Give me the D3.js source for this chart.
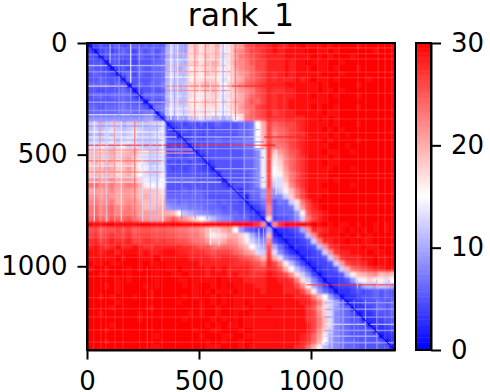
<!DOCTYPE html>
<html>
<head>
<meta charset="utf-8">
<script src="https://cdn.jsdelivr.net/npm/d3@7"></script>
<style>
  body { margin: 0; background: #fff; }
  text { font-family: "DejaVu Sans", sans-serif; fill: #000; }
</style>
</head>
<body>
<div id="chart"></div>
<script>
// residue bins are 25 wide, one char per bin, base 31 (0-9, a=10 ... u=30)
const binSize = 25;
const residueCount = 1375;
const xTicks = [0, 500, 1000];
const yTicks = [0, 500, 1000];
const barTicks = [0, 10, 20, 30];
const diagonalEnds = [0, 1375];

const paeRows = [
  "14545645656565 aca9 ijhjik eh kl pqrr s tsst tutttutuuuutuuuuuu",
  "41454565465656 bca9 hjhiij eg lm oqqr s tstt ttuuttutuuuuuutuuu",
  "54145555465556 abaa hihjij dh kn opqr s sstt tttututuuutuuuuuuu",
  "55515545455566 bcba ijhjkj eh lm npqq s ssts ttutttuutuuuuuuuuu",
  "65541454565566 bcab ghhijh eg km noqq s ssts tttuttutuuutuuuuuu",
  "56554156465566 cdbb hhgjih eh jl mopq s rsts tttttuuutuuuuuuuuu",
  "55655516555566 bcbb ghhiig dg jk nopq s rsss tstuttutuuuuutuuuu",
  "66665651565667 ccbc iijkji fi km opqr s sstt ttttutuuuuutuuuuuu",
  "55455565145555 bcbb hhhijh eg jl mnpq s rrss ttttuttutuuuuuuuuu",
  "56656666416666 cccb hgghih eh ik mopq s rsss tttuttutuuutuuuuuu",
  "55555565541555 bdbb gghiig dg jk npoq s rsst ttttttuuuuuuuuuuuu",
  "66566676665177 cdcc hghhhh eh il noqr s rsst tttutuutuuutuuuuuu",
  "66666677667716 dddc hhhhgg eg ik mopq s qrss tttttuttuuuuuuuuuu",
  "88888888889961 88a9 bcdcbb ab fh nopq s rrss ssttututuuuuuuuuuu",
  "bcabccaccbbcdd 2454545456555667 f k q opqqrs ttttutuuutuuuuuu",
  "bcbcdcbcdcbbcd 4245454545555667 f k q nopqrs tttututuuuuuuuuu",
  "abacbcbcdbbbdc 4424454555555667 f k q mopqrr ttttututuuuuuuuu",
  "cdcdecdedcccde 5442454556556677 f k q nopqrs tttutuuuutuuuuuu",
  "dcedcdecdcbccd 4544245555556677 f k q nnoqrs ttttuuutuuuuuuuu",
  "ijhjkhijkhecde 4454424555555566 8 e q jlnpqs tttuttuutuuuuuuu",
  "jkijkiklihdcdd 5454542455555566 8 e q hjmoqr ttttutuuuuuuuuuu",
  "ikhkjhjkigdbcd 4545454245555566 8 e q gimoqr tttuttuuuuuuuuuu",
  "jkjlkijligecdd 5454554425555566 8 e q fhloqr tttttuuutuuuuuuu",
  "ikikjhjkhfdcce 5555555542555556 8 e q fgknpr ttttuuuuuuuuuuuu",
  "lmklmkllkieddf 6666655554255556 8 e q ddjnqr ttttutuuuuuuuuuu",
  "nommnlmnmkgfef 5555555555425556 8 e q cdhmpr tttuuuuutuuuuuuu",
  "klklmkllkjjjih 5556565555554256 6 9 o 9cgjnq ttttuuuuuuuuuuuu",
  "lmkmlkllkjkjii 6666666555555426 6 9 o 88cinq tttuuuuuuuuuuuuu",
  "mnlmnklmlkjjij 7767666665655424 5 7 o 576chn rtuuuuuuuuuuuuuu",
  "nomnommnlljjjk 9888777666565542 4 6 m 5667dl qstuuuuuuuuuuuuu",
  "nomnomnnmlllkk kjfba98877666554 2 4 m 56669g prstuuuuuuuuuuuu",
  "oponpoopnmllkl npmljhfdb9886664 4 2 h 45568c nqstuuuuuuuuuuuu",
  "uttuututtuuutu tuutuuuuuutuuuutrm 1 mr uttututututtutuututu",
  "pqoppqpqopppop oonnmmljijklf96543 a 1 3345 a m srstttututututu",
  "qrpqrqqrpqqqpq ppoonnmjghikkiea75 j 2 1 3345 b m stttutututuuuu",
  "rsqrsrrsqqrrqr qqpponnljjkmljgca8 m 53 1 3345 c n ssttututtuuuu",
  "stsrstsstsrrss sssrrqppnnoonljfca p a63 1 3345 b m rsttttuttuuu",
  "ttsttstttstsst ttssrrrqpqqqonlkdc q d853 1 3345 c m rsstttuttuu",
  "tttttutuutttut ttttssssrrssrqpomj r kd864 1 3445 c m rsssttuttu",
  "uttuttuuututtu ttttttssssssrrrqpn s qmgb74 1 3445 c l qrrstuttu",
  "tuutuuututuutu ttuttttststssssrqq s rpkfb84 1 3445 c k opqrsstt",
  "uuttuuutuuuutu uttutttstttstssrrr t srqmhc84 1 3445 b g jklmjkj",
  "uuuuututuuuutu uuttuttttuttttssss t tssrnhc84 1 3345 9 e giegdf",
  "uuututuuuututu uuututuutututtttss t ttssqmga74 1 3445 6 a bacba",
  "uuuuutuuuuutuu uuuuutututttutttts t ttsssqmg964 1 3345 456565",
  "uututuuutuutuu uuututuutututttttt t ttttssrnjf95 1 3345 56565",
  "uuuuutuuuuuuuu uutuuututututtuttt t tttttssqnida6 1 3345 5656",
  "uuuutuuuuuutuu uuuuuutuutuutttutt u ttttttrplhc976 1 3345 656",
  "uutuuuuuutuuuu uuuututuutuutuuttt t ttttttrqmid8765 1 3345 56",
  "uuuuuuuuutuuuu uuutuuuututututttt t ttttttrqnjd87655 1 3345 5",
  "uuuutuuuuuuuuu uuuuuuutututtutttt t ttttttsqnjd876555 1 3345",
  "uuutuuuuuuuuuu uuuuutuuttuuutuutt t ttttttsqmic8765555 1 334",
  "uuuuuuuuuuuutu uuuuuutuuuttuutttt t tttttsrolga87655555 1 33",
  "uuutuuuuuuuuuu uuuuuuutuutuutuutt t tttttsrokfa876655555 1 3",
  "uuuuuuuuuuuutu uuuuuuutttuuututtt t ttttsrokgb98766555555 1"
];

// thin streaks in the map: [residue, from, to, value]
const rowStreaks = [
  [45, 350, 640, 20], [72, 350, 640, 14], [125, 350, 640, 22], [150, 350, 640, 15],
  [210, 350, 640, 23], [235, 350, 640, 13], [290, 350, 640, 16], [305, 350, 640, 12],
  [50, 0, 345, 8], [125, 0, 345, 8], [230, 0, 345, 9], [300, 0, 345, 8],
  [440, 350, 790, 8], [470, 350, 790, 9], [510, 350, 790, 9], [600, 350, 790, 9], [660, 350, 790, 9], [700, 350, 790, 8],
  [370, 0, 345, 9], [395, 0, 345, 15], [432, 0, 345, 9], [505, 0, 345, 12], [525, 0, 345, 24],
  [548, 0, 345, 14], [575, 0, 345, 23], [598, 0, 345, 13],
  [1160, 1060, 1375, 10], [1190, 1060, 1375, 9], [1225, 1060, 1375, 8], [1285, 1060, 1375, 9], [1340, 1060, 1375, 10],
  [98, 0, 90, 13], [98, 110, 350, 12], [98, 350, 620, 20],
  [190, 0, 180, 17], [190, 200, 350, 9], [190, 350, 640, 24], [190, 640, 900, 28],
  [262, 0, 250, 11], [262, 275, 350, 12], [262, 350, 700, 21],
  [318, 0, 310, 14], [318, 350, 700, 15],
  [358, 0, 340, 18], [385, 360, 770, 10],
  [418, 0, 400, 16], [418, 430, 780, 12], [418, 790, 1000, 28],
  [455, 0, 445, 28], [455, 465, 790, 27], [455, 790, 840, 29],
  [476, 0, 470, 22], [490, 0, 480, 20], [540, 350, 530, 9], [560, 570, 760, 11],
  [620, 0, 600, 14], [620, 630, 800, 11],
  [1080, 980, 1375, 27], [1257, 1060, 1245, 14], [1257, 1265, 1375, 13], [1310, 1060, 1300, 12]
];
const colStreaks = [
  [358, 0, 345, 10], [372, 0, 345, 15], [388, 0, 345, 9], [402, 0, 345, 14], [428, 0, 345, 11],
  [452, 0, 345, 18], [478, 0, 345, 22], [500, 0, 345, 16], [525, 0, 345, 23], [548, 0, 345, 17],
  [572, 0, 345, 22], [592, 0, 345, 14], [605, 0, 345, 10], [622, 0, 345, 13], [640, 0, 345, 20], [660, 0, 345, 24],
  [30, 350, 800, 14], [55, 350, 800, 22], [85, 350, 800, 12], [120, 350, 800, 22], [150, 350, 800, 16],
  [210, 350, 800, 24], [245, 350, 800, 13], [280, 350, 800, 11], [310, 350, 800, 10], [335, 350, 800, 14],
  [140, 0, 345, 9], [230, 0, 345, 9], [295, 0, 345, 8], [420, 350, 790, 8], [480, 350, 790, 9],
  [535, 350, 790, 9], [640, 350, 790, 8], [700, 350, 790, 9],
  [1090, 1150, 1375, 12], [1140, 1150, 1375, 10], [1190, 1150, 1375, 8], [1240, 1150, 1375, 10], [1290, 1150, 1375, 9],
  [100, 0, 90, 12], [192, 0, 180, 15], [192, 200, 350, 9],
  [842, 480, 680, 14], [266, 1000, 1375, 26],
  [548, 830, 905, 15], [586, 830, 910, 13], [764, 830, 940, 12], [785, 830, 950, 12],
  [1204, 1060, 1100, 20], [1290, 1060, 1100, 20], [1345, 1060, 1100, 21]
];
// faint pale lines that give the plaid look
const plaidRows = [22, 48, 71, 130, 155, 225, 300, 340, 402, 435, 520, 585, 605, 675, 720, 770, 870, 905, 960, 1015, 1045, 1140, 1190, 1228, 1285, 1340];
const plaidCols = [30, 62, 84, 125, 160, 235, 290, 335, 395, 470, 510, 575, 640, 700, 745, 880, 930, 985, 1030, 1075, 1125, 1210, 1245, 1300, 1330, 1360];

const margin = { top: 43, left: 87 };
const mapWidth = 308;
const mapHeight = 307;

const svg = d3.select('#chart').append('svg')
  .attr('width', 490)
  .attr('height', 392)
  .style('display', 'block');

const defs = svg.append('defs');
defs.append('filter').attr('id', 'soften')
  .append('feGaussianBlur').attr('stdDeviation', 1);
defs.append('clipPath').attr('id', 'mapClip')
  .append('rect')
  .attr('x', margin.left).attr('y', margin.top)
  .attr('width', mapWidth).attr('height', mapHeight);

const x = d3.scaleLinear().domain([0, residueCount]).range([margin.left, margin.left + mapWidth]);
const y = d3.scaleLinear().domain([0, residueCount]).range([margin.top, margin.top + mapHeight]);
const color = d3.scaleLinear().domain([0, 15, 30]).range(['#0000ff', '#ffffff', '#ff0000']);

const cells = [];
paeRows.forEach((row, r) => {
  row.replace(/ /g, '').split('').forEach((ch, c) => {
    cells.push({ r, c, v: parseInt(ch, 31) });
  });
});

const map = svg.append('g').attr('clip-path', 'url(#mapClip)');

const cellLayer = map.append('g').attr('id', 'cellLayer');
cellLayer.selectAll('.cell')
  .data(cells)
  .enter()
  .append('rect')
  .attr('class', 'cell')
  .attr('x', d => x(d.c * binSize))
  .attr('y', d => y(d.r * binSize))
  .attr('width', x(binSize) - x(0) + 0.3)
  .attr('height', y(binSize) - y(0) + 0.3)
  .attr('fill', d => color(d.v));

// soft copy over the sharp bins so the 25 residue steps don't show
map.append('use').attr('href', '#cellLayer').attr('filter', 'url(#soften)');

const streakSize = 6;
map.selectAll('.row-streak')
  .data(rowStreaks)
  .enter()
  .append('rect')
  .attr('x', d => x(d[1]))
  .attr('y', d => y(d[0]))
  .attr('width', d => x(d[2]) - x(d[1]))
  .attr('height', y(streakSize) - y(0))
  .attr('fill', d => color(d[3]))
  .attr('fill-opacity', 0.75);

map.selectAll('.col-streak')
  .data(colStreaks)
  .enter()
  .append('rect')
  .attr('x', d => x(d[0]))
  .attr('y', d => y(d[1]))
  .attr('width', x(streakSize) - x(0))
  .attr('height', d => y(d[2]) - y(d[1]))
  .attr('fill', d => color(d[3]))
  .attr('fill-opacity', 0.75);

map.selectAll('.plaid-row')
  .data(plaidRows)
  .enter()
  .append('line')
  .attr('x1', x(0)).attr('x2', x(residueCount))
  .attr('y1', d => y(d)).attr('y2', d => y(d))
  .attr('stroke', '#fff').attr('stroke-opacity', 0.14).attr('stroke-width', 1.2);

map.selectAll('.plaid-col')
  .data(plaidCols)
  .enter()
  .append('line')
  .attr('y1', y(0)).attr('y2', y(residueCount))
  .attr('x1', d => x(d)).attr('x2', d => x(d))
  .attr('stroke', '#fff').attr('stroke-opacity', 0.14).attr('stroke-width', 1.2);

// best-predicted residues run along the diagonal
map.append('line')
  .attr('x1', x(diagonalEnds[0])).attr('y1', y(diagonalEnds[0]))
  .attr('x2', x(diagonalEnds[1])).attr('y2', y(diagonalEnds[1]))
  .attr('stroke', color(0))
  .attr('stroke-width', 1);

function styleAxis(g) {
  g.selectAll('.domain').attr('stroke', '#000').attr('stroke-width', 2);
  g.selectAll('.tick line').attr('stroke', '#000').attr('stroke-width', 2);
  g.selectAll('.tick text').style('font-size', '26px').attr('font-family', null);
}

svg.append('g')
  .attr('transform', `translate(0,${margin.top + mapHeight})`)
  .call(d3.axisBottom(x).tickValues(xTicks).tickFormat(d3.format('d')).tickSize(9.5).tickPadding(12).tickSizeOuter(0))
  .call(styleAxis);

svg.append('g')
  .attr('transform', `translate(${margin.left},0)`)
  .call(d3.axisLeft(y).tickValues(yTicks).tickFormat(d3.format('d')).tickSize(9.5).tickPadding(10).tickSizeOuter(0))
  .call(styleAxis);

// frame on top of the map
svg.append('rect')
  .attr('x', margin.left).attr('y', margin.top)
  .attr('width', mapWidth).attr('height', mapHeight)
  .attr('fill', 'none').attr('stroke', '#000').attr('stroke-width', 2);

svg.append('text')
  .attr('x', margin.left + mapWidth / 2)
  .attr('y', 26)
  .attr('text-anchor', 'middle')
  .style('font-size', '31.5px')
  .text('rank_1');

// colorbar
const barLeft = 416;
const barWidth = 15;
const barScale = d3.scaleLinear().domain([0, 30]).range([margin.top + mapHeight, margin.top]);
const barSteps = d3.range(0, 30, 0.25);

svg.append('g').selectAll('rect')
  .data(barSteps)
  .enter()
  .append('rect')
  .attr('x', barLeft)
  .attr('y', d => barScale(d + 0.25))
  .attr('width', barWidth)
  .attr('height', barScale(0) - barScale(0.25) + 0.5)
  .attr('fill', d => color(d));

svg.append('g')
  .attr('transform', `translate(${barLeft + barWidth},0)`)
  .call(d3.axisRight(barScale).tickValues(barTicks).tickSize(10).tickPadding(10).tickSizeOuter(0))
  .call(styleAxis);

svg.append('rect')
  .attr('x', barLeft).attr('y', margin.top)
  .attr('width', barWidth).attr('height', mapHeight)
  .attr('fill', 'none').attr('stroke', '#000').attr('stroke-width', 2);
</script>
</body>
</html>
